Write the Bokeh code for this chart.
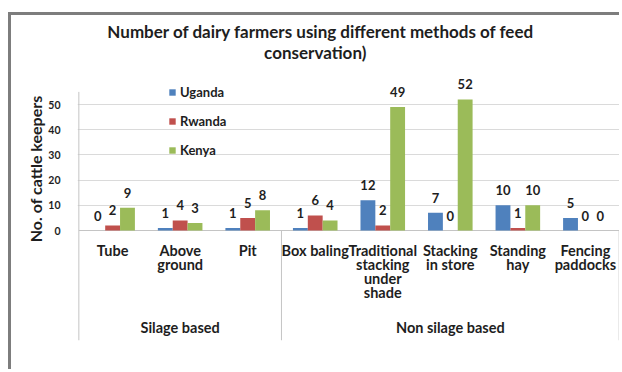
from bokeh.plotting import figure
from bokeh.models import (Range1d, FixedTicker, Title, Legend, LegendItem,
                          ColumnDataSource, Label)
from bokeh.transform import dodge
from bokeh.core.properties import value
from bokeh.embed import file_html
from bokeh.resources import INLINE

# Feed conservation methods and their groups
methods = ["Tube", "Above\nground", "Pit", "Box baling",
           "Traditional\nstacking\nunder\nshade", "Stacking\nin store",
           "Standing\nhay", "Fencing\npaddocks"]
groups = ["Silage based", "Non silage based"]
group_sizes = [3, 5]

# Number of cattle keepers per country
uganda = [0, 1, 1, 1, 12, 7, 10, 5]
rwanda = [2, 4, 5, 6, 2, 0, 1, 0]
kenya = [9, 3, 8, 4, 49, 52, 10, 0]

y_ticks = [0, 10, 20, 30, 40, 50]
y_top = 55

countries = ["Uganda", "Rwanda", "Kenya"]
colors = ["#4F81BD", "#C0504D", "#9BBB59"]
series = [uganda, rwanda, kenya]

title_lines = ["Number of dairy farmers using different methods of feed",
               "conservation)"]

FONT = "Lato"
TEXT = "#1e1e1e"
LINE = "#c4c4c4"
GRID = "#dadada"

centers = [i + 0.5 for i in range(len(methods))]

# px per unit on y: 2.52 ; frame spans from canvas top down to the group labels
p = figure(width=611, height=357, output_backend="svg", toolbar_location=None,
           x_range=Range1d(-0.02, 8.02), y_range=Range1d(-43.65, 85.32),
           min_border_left=66, min_border_right=2, min_border_top=0,
           min_border_bottom=32, x_axis_location=None,
           margin=(12, 0, 0, 8),
           styles={"border-top": "3px solid #7d7d7d",
                   "border-left": "3px solid #7d7d7d"})
p.outline_line_color = None
p.background_fill_color = "white"
p.border_fill_color = "white"
p.title.visible = False

# Two-line chart title
for txt, tx, ty in zip(title_lines, [3.585, 3.50], [79.0, 70.5]):
    p.add_layout(Label(x=tx, y=ty, text=txt, text_align="center",
                       text_baseline="middle", text_font=FONT,
                       text_font_size="17px", text_font_style="bold",
                       text_color=TEXT))

# Y axis
yax = p.yaxis[0]
yax.ticker = FixedTicker(ticks=y_ticks)
yax.axis_line_color = None
yax.major_tick_line_color = None
yax.minor_tick_line_color = None
yax.major_label_standoff = 11
yax.major_label_text_font = FONT
yax.major_label_text_font_size = "10.5px"
yax.major_label_text_font_style = "bold"
yax.major_label_text_color = TEXT
p.add_layout(Title(text="No. of cattle keepers", align="right", offset=80,
                   text_font=FONT, text_font_size="16px", text_font_style="bold",
                   text_color=TEXT, standoff=2), "left")

p.ygrid.ticker = FixedTicker(ticks=y_ticks[1:])
p.ygrid.grid_line_color = GRID
p.xgrid.visible = False

# Axis lines and group separators
y_bottom = p.y_range.start
bounds = [0]
for n in group_sizes:
    bounds.append(bounds[-1] + n)
p.segment(x0=[0], y0=[y_bottom], x1=[0], y1=[y_top], line_color=LINE, line_width=1)
p.segment(x0=[0], y0=[0], x1=[bounds[-1]], y1=[0], line_color=LINE, line_width=1)
p.segment(x0=bounds[1:], y0=[0] * len(group_sizes), x1=bounds[1:],
          y1=[y_bottom] * len(group_sizes), line_color=LINE, line_width=1)

# Bars and value labels
data = dict(x=centers)
for name, vals in zip(countries, series):
    data[name] = vals
    data[name + "_lbl"] = [str(v) for v in vals]
src = ColumnDataSource(data)

bw = 0.22
offsets = [-bw, 0.0, bw]
items = []
for name, col, off in zip(countries, colors, offsets):
    r = p.vbar(x=dodge("x", off, range=p.x_range), top=name, width=bw,
               source=src, fill_color=col, line_color=None)
    items.append(LegendItem(label=name, renderers=[r]))
    p.text(x=dodge("x", off, range=p.x_range), y=name, text=name + "_lbl",
           source=src, text_align="center", text_baseline="bottom",
           y_offset=-10, text_font=value(FONT), text_font_size="13px",
           text_font_style="bold", text_color=TEXT)

# Category labels below the axis
p.text(x=centers, y=[-4.4] * len(centers), text=methods,
       text_align="center", text_baseline="top", text_line_height=0.84,
       text_font=value(FONT), text_font_size="14.5px", text_font_style="bold",
       text_color=TEXT)
group_centers = [(bounds[i] + bounds[i + 1]) / 2 for i in range(len(group_sizes))]
p.text(x=group_centers, y=[-38.5] * len(groups), text=groups,
       text_align="center", text_baseline="middle",
       text_font=value(FONT), text_font_size="14.5px", text_font_style="bold",
       text_color=TEXT)

legend = Legend(items=items, location=(91, 182), orientation="vertical",
                glyph_width=8, glyph_height=8, label_height=8, spacing=13,
                label_standoff=4, padding=0, margin=0,
                border_line_color=None, background_fill_alpha=0,
                label_text_font=FONT, label_text_font_size="13px",
                label_text_font_style="bold", label_text_color=TEXT)
p.add_layout(legend, "center")

open("out.html", "w").write(file_html(p, INLINE))
